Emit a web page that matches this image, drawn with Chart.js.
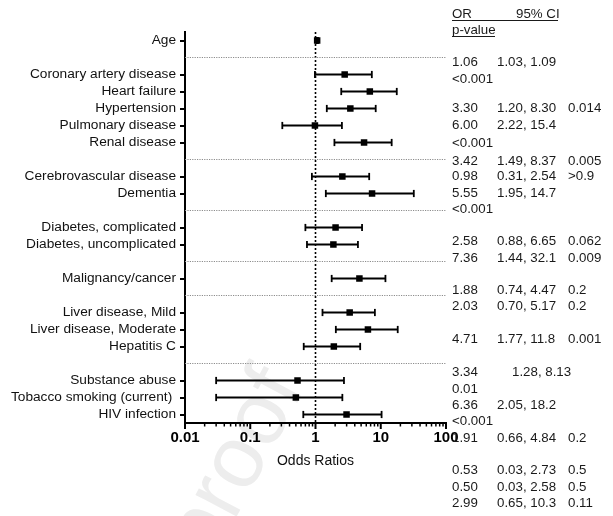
<!DOCTYPE html>
<html>
<head>
<meta charset="utf-8">
<script src="https://cdn.jsdelivr.net/npm/chart.js@4/dist/chart.umd.min.js"></script>
<style>
  html, body { margin: 0; padding: 0; background: #fff; }
  #forest { display: block; }
</style>
</head>
<body>
<canvas id="forest" width="613" height="516"></canvas>
<script>
// forest plot data

const rowLabels = ['Age', 'Coronary artery disease', 'Heart failure', 'Hypertension', 'Pulmonary disease',
  'Renal disease', 'Cerebrovascular disease', 'Dementia', 'Diabetes, complicated', 'Diabetes, uncomplicated',
  'Malignancy/cancer', 'Liver disease, Mild', 'Liver disease, Moderate', 'Hepatitis C',
  'Substance abuse', 'Tobacco smoking (current) ', 'HIV infection'];
const rowSlots = [0, 2, 3, 4, 5, 6, 8, 9, 11, 12, 14, 16, 17, 18, 20, 21, 22];
const oddsRatios = [1.06, 2.8, 6.8, 3.42, 0.98, 5.55, 2.58, 7.36, 2.03, 1.88, 4.71, 3.34, 6.36, 1.91, 0.53, 0.50, 2.99];
const ciLow = [1.03, 0.98, 2.48, 1.49, 0.31, 1.95, 0.88, 1.44, 0.70, 0.74, 1.77, 1.28, 2.05, 0.66, 0.03, 0.03, 0.65];
const ciHigh = [1.09, 7.3, 17.6, 8.37, 2.54, 14.7, 6.65, 32.1, 5.17, 4.47, 11.8, 8.13, 18.2, 4.84, 2.73, 2.58, 10.3];
const groupBreaks = [1, 7, 10, 13, 15, 19];
const xTickLabels = [0.01, 0.1, 1, 10, 100];

// text column on the right (as printed)
const tableOR = ['1.06', '<0.001', '3.30', '6.00', '<0.001', '3.42', '0.98', '5.55', '<0.001', '2.58', '7.36',
  '1.88', '2.03', '4.71', '3.34', '0.01', '6.36', '<0.001', '1.91', '0.53', '0.50', '2.99'];
const tableCI = ['1.03, 1.09', '', '1.20, 8.30', '2.22, 15.4', '', '1.49, 8.37', '0.31, 2.54', '1.95, 14.7', '',
  '0.88, 6.65', '1.44, 32.1', '0.74, 4.47', '0.70, 5.17', '1.77, 11.8', '1.28, 8.13', '', '2.05, 18.2', '',
  '0.66, 4.84', '0.03, 2.73', '0.03, 2.58', '0.65, 10.3'];
const tableP = ['', '', '0.014', '', '', '0.005', '>0.9', '', '', '0.062', '0.009', '0.2', '0.2', '0.001', '',
  '', '', '', '0.2', '0.5', '0.5', '0.11'];

// layout of the text column
const tableLineY = [62, 79, 108, 125, 143, 161, 176, 193, 209, 241, 258, 290, 306, 339, 372, 389, 405, 421, 438, 470, 487, 503];
const FONT = "'Liberation Sans', Arial, Helvetica, sans-serif";

let datasets = [];

groupBreaks.forEach(b => {
  datasets.push({
    data: [{ x: 0.01, y: b }, { x: 100, y: b }],
    showLine: true, borderColor: '#8c8c8c', borderWidth: 1, borderDash: [1.2, 1.2], pointRadius: 0
  });
});

datasets.push({
  data: [{ x: 1, y: -0.5 }, { x: 1, y: 22.5 }],
  showLine: true, borderColor: '#000', borderWidth: 1.6, borderDash: [2, 2], pointRadius: 0
});

rowSlots.forEach((s, i) => {
  datasets.push({
    data: [{ x: ciLow[i], y: s }, { x: ciHigh[i], y: s }],
    showLine: true, borderColor: '#000', borderWidth: 2, pointRadius: 0
  });
});

let caps = [];
rowSlots.forEach((s, i) => {
  caps.push({ x: ciLow[i], y: s });
  caps.push({ x: ciHigh[i], y: s });
});
datasets.push({
  data: caps, pointStyle: 'line', rotation: 90, pointRadius: 3.6,
  borderColor: '#000', pointBorderWidth: 1.8
});

datasets.push({
  data: rowSlots.map((s, i) => ({ x: oddsRatios[i], y: s })),
  pointStyle: 'rect', pointRadius: 4.6, backgroundColor: '#000', borderColor: '#000', pointBorderWidth: 0
});

const watermark = {
  id: 'watermark',
  beforeDraw(chart) {
    const ctx = chart.ctx;
    ctx.save();
    ctx.translate(305, 388);
    ctx.rotate(-62 * Math.PI / 180);
    ctx.font = '88px ' + FONT;
    ctx.fillStyle = '#ededed';
    ctx.textAlign = 'right';
    ctx.textBaseline = 'alphabetic';
    ctx.fillText('Journal Pre-proof', 0, 0);
    ctx.restore();
  }
};

const xTickMarks = {
  id: 'xTickMarks',
  afterDraw(chart) {
    const ctx = chart.ctx;
    const xs = chart.scales.x;
    const y0 = chart.chartArea.bottom;
    ctx.save();
    ctx.strokeStyle = '#000';
    xs.ticks.forEach(t => {
      const major = xTickLabels.includes(t.value);
      const px = xs.getPixelForValue(t.value);
      ctx.lineWidth = major ? 2 : 1.5;
      ctx.beginPath();
      ctx.moveTo(px, y0);
      ctx.lineTo(px, y0 + (major ? 6 : 3.5));
      ctx.stroke();
    });
    ctx.restore();
  }
};

const sideTable = {
  id: 'sideTable',
  afterDraw(chart) {
    const ctx = chart.ctx;
    ctx.save();
    ctx.font = '13.3px ' + FONT;
    ctx.fillStyle = '#1a1a1a';
    ctx.textBaseline = 'middle';
    ctx.textAlign = 'left';

    ctx.fillText('OR', 452, 14);
    ctx.fillText('95% CI', 516, 14);
    ctx.fillText('p-value', 452, 30);
    ctx.strokeStyle = '#1a1a1a';
    ctx.lineWidth = 1;
    ctx.beginPath();
    ctx.moveTo(452, 20.5); ctx.lineTo(558, 20.5);
    ctx.moveTo(452, 36.5); ctx.lineTo(495, 36.5);
    ctx.stroke();

    tableLineY.forEach((y, i) => {
      ctx.fillText(tableOR[i], 452, y);
      ctx.fillText(tableCI[i], tableOR[i] === '3.34' ? 512 : 497, y);
      ctx.fillText(tableP[i], 568, y);
    });
    ctx.restore();
  }
};

new Chart(document.getElementById('forest'), {
  type: 'scatter',
  data: { datasets: datasets },
  plugins: [watermark, xTickMarks, sideTable],
  options: {
    responsive: false,
    animation: false,
    layout: { padding: { left: 0, right: 167, top: 32, bottom: 0 } },
    plugins: { legend: { display: false }, tooltip: { enabled: false } },
    scales: {
      x: {
        type: 'logarithmic',
        min: 0.01,
        max: 100,
        afterBuildTicks: s => {
          let t = [];
          for (let d = 0.01; d < 99; d *= 10) {
            for (let k = 1; k < 10; k++) t.push({ value: Number((d * k).toPrecision(3)) });
          }
          t.push({ value: 100 });
          s.ticks = t;
        },
        ticks: {
          autoSkip: false, maxRotation: 0, padding: 6, color: '#000',
          font: { family: FONT, size: 15, weight: 'bold' },
          callback: v => xTickLabels.includes(v) ? String(v) : ''
        },
        grid: { drawOnChartArea: false, drawTicks: false },
        border: { color: '#000', width: 2 },
        title: {
          display: true, text: 'Odds Ratios', color: '#111',
          font: { family: FONT, size: 14 },
          padding: { top: 0, bottom: 46 }
        },
        afterFit: s => { s.height = 93; }
      },
      y: {
        type: 'linear',
        min: -0.5,
        max: 22.5,
        reverse: true,
        afterBuildTicks: s => { s.ticks = rowSlots.map(v => ({ value: v })); },
        ticks: {
          autoSkip: false, padding: 4, color: '#111',
          font: { family: FONT, size: 13.7 },
          callback: v => rowLabels[rowSlots.indexOf(v)]
        },
        grid: { drawOnChartArea: false, drawTicks: true, tickLength: 5, color: '#000', lineWidth: 2 },
        border: { color: '#000', width: 2 },
        afterFit: s => { s.width = 185; }
      }
    }
  }
});
</script>
</body>
</html>
